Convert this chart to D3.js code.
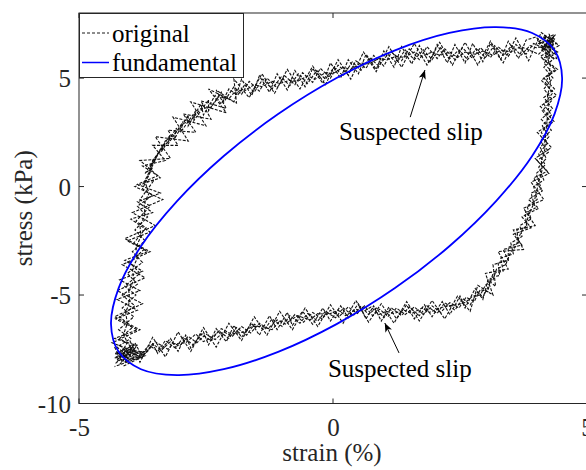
<!DOCTYPE html>
<html><head><meta charset="utf-8">
<script src="https://cdn.jsdelivr.net/npm/d3@7/dist/d3.min.js"></script>
<style>
html,body{margin:0;padding:0;background:#fff;}
svg{display:block;font-family:"Liberation Serif","Times New Roman",serif;}
</style></head>
<body>
<svg id="chart" width="586" height="470"></svg>
<script>
// ---------- data ----------
const xTicks = [-5, 0, 5];
const yTicks = [-10, -5, 0, 5];
const xDomain = [-5, 5];
const yDomain = [-10, 8];
const legendLabels = ["original", "fundamental"];
const xLabel = "strain (%)";
const yLabel = "stress (kPa)";

// fundamental (first harmonic) loop [strain, stress]
const fundamental = [
  [0.07, 5.00], [1.22, 6.28], [2.29, 7.08], [3.21, 7.35], [3.92, 7.08], [4.36, 6.28],
  [4.51, 5.00], [4.36, 3.34], [3.92, 1.41], [3.21, -0.67], [2.29, -2.75], [1.22, -4.68],
  [0.07, -6.34], [-1.08, -7.62], [-2.15, -8.42], [-3.07, -8.69], [-3.78, -8.42], [-4.22, -7.62],
  [-4.37, -6.34], [-4.22, -4.68], [-3.78, -2.75], [-3.07, -0.67], [-2.15, 1.41], [-1.08, 3.34]
];

const originalPass1 = [
  [-4.12,-7.9],[-3.95,-7.45],[-3.8,-7.8],[-3.62,-7.3],[-3.45,-7.6],[-3.3,-7.1],[-3.1,-7.45],[-2.95,-6.95],
  [-2.75,-7.3],[-2.6,-6.8],[-2.4,-7.1],[-2.25,-6.65],[-2.05,-7.0],[-1.9,-6.5],[-1.7,-6.85],[-1.55,-6.35],
  [-1.35,-6.6],[-1.2,-6.1],[-1.0,-6.45],[-0.85,-5.95],[-0.65,-6.3],[-0.5,-5.85],[-0.3,-6.2],[-0.15,-5.75],
  [0.05,-6.05],[0.2,-5.6],[0.4,-5.95],[0.55,-5.5],[0.7,-5.9],[0.85,-5.6],[1.0,-6.05],[1.15,-5.6],
  [1.35,-5.95],[1.5,-5.55],[1.7,-5.95],[1.85,-5.5],[2.05,-5.85],[2.2,-5.35],[2.4,-5.7],[2.55,-5.15],
  [2.7,-5.45],[2.85,-4.85],[2.95,-5.1],[3.1,-4.4],[3.15,-4.0],[3.35,-3.9],[3.3,-3.3],[3.55,-3.1],
  [3.5,-2.6],[3.72,-2.3],[3.68,-1.8],[3.9,-1.5],[3.82,-0.9],[4.02,-0.6],[3.95,0.0],[4.15,0.3],
  [4.05,0.9],[4.2,1.3],[4.08,1.8],[4.25,2.3],[4.12,2.8],[4.3,3.3],[4.15,3.8],[4.32,4.3],
  [4.18,4.8],[4.3,5.3],[4.15,5.7],[4.35,6.1],[4.2,6.5],[4.38,6.8],[4.1,6.9],[4.2,6.3],
  [3.95,6.6],[3.8,6.1],[3.6,6.55],[3.45,6.0],[3.25,6.45],[3.1,5.95],[2.9,6.4],[2.75,5.9],
  [2.55,6.4],[2.4,5.85],[2.2,6.35],[2.05,5.9],[1.85,6.45],[1.7,5.85],[1.5,6.35],[1.35,5.8],
  [1.15,6.2],[1.0,5.55],[0.8,6.05],[0.65,5.45],[0.45,5.8],[0.3,5.15],[0.1,5.6],[-0.05,5.0],
  [-0.25,5.45],[-0.4,4.8],[-0.6,5.25],[-0.75,4.7],[-0.95,5.1],[-1.1,4.55],[-1.3,5.0],[-1.45,4.4],
  [-1.65,4.85],[-1.8,4.25],[-1.95,4.6],[-2.15,3.9],[-2.2,4.35],[-2.45,3.5],[-2.45,4.0],[-2.75,3.0],
  [-2.7,3.5],[-3.0,2.5],[-2.95,3.0],[-3.25,1.95],[-3.2,2.4],[-3.5,1.3],[-3.4,1.7],[-3.7,0.6],
  [-3.55,0.9],[-3.75,-0.1],[-3.55,-0.4],[-3.85,-0.9],[-3.65,-1.4],[-3.9,-2.0],[-3.7,-2.5],[-3.95,-3.0],
  [-3.75,-3.5],[-4.05,-4.0],[-3.85,-4.5],[-4.15,-5.0],[-3.9,-5.5],[-4.2,-6.0],[-3.95,-6.5],[-4.2,-7.0],
  [-3.95,-7.4],[-4.25,-7.9],[-4.0,-8.1]
];
const originalPass2 = [
  [-4.2,-7.6],[-4.0,-8.0],[-3.88,-7.55],[-3.7,-7.7],[-3.55,-7.25],[-3.38,-7.55],[-3.2,-7.15],[-3.02,-7.35],
  [-2.85,-6.9],[-2.68,-7.2],[-2.5,-6.8],[-2.32,-7.05],[-2.15,-6.7],[-1.98,-6.9],[-1.8,-6.45],[-1.62,-6.75],
  [-1.45,-6.3],[-1.28,-6.55],[-1.1,-6.15],[-0.92,-6.35],[-0.75,-5.9],[-0.58,-6.25],[-0.4,-5.8],[-0.22,-6.1],
  [-0.05,-5.7],[0.12,-6.0],[0.3,-5.55],[0.48,-5.85],[0.62,-5.5],[0.78,-5.95],[0.92,-5.65],[1.08,-6.0],
  [1.25,-5.6],[1.42,-5.9],[1.6,-5.55],[1.78,-5.9],[1.95,-5.5],[2.12,-5.8],[2.3,-5.35],[2.48,-5.6],
  [2.62,-5.1],[2.78,-5.3],[2.9,-4.75],[3.05,-4.85],[3.1,-4.2],[3.28,-4.1],[3.25,-3.5],[3.45,-3.4],
  [3.45,-2.8],[3.65,-2.6],[3.62,-2.0],[3.82,-1.9],[3.78,-1.2],[3.98,-1.0],[3.9,-0.3],[4.1,-0.1],
  [4.0,0.6],[4.18,1.0],[4.05,1.5],[4.22,2.0],[4.1,2.5],[4.28,3.0],[4.12,3.5],[4.32,4.0],
  [4.15,4.5],[4.33,5.0],[4.15,5.5],[4.35,5.9],[4.1,6.3],[4.4,6.6],[4.15,7.0],[4.3,6.5],[4.0,6.4],
  [3.88,6.5],[3.7,6.05],[3.52,6.5],[3.35,6.05],[3.18,6.5],[3.0,5.95],[2.82,6.35],[2.65,5.85],
  [2.48,6.3],[2.3,5.9],[2.12,6.4],[1.95,5.85],[1.78,6.3],[1.6,5.85],[1.42,6.3],[1.25,5.7],
  [1.08,6.1],[0.9,5.55],[0.72,5.95],[0.55,5.35],[0.38,5.75],[0.2,5.1],[0.02,5.5],[-0.15,4.95],
  [-0.32,5.35],[-0.5,4.75],[-0.68,5.2],[-0.85,4.65],[-1.02,5.05],[-1.2,4.5],[-1.38,4.95],[-1.55,4.35],
  [-1.72,4.75],[-1.88,4.2],[-2.05,4.5],[-2.2,3.8],[-2.32,4.2],[-2.55,3.3],[-2.6,3.8],[-2.85,2.8],
  [-2.85,3.3],[-3.12,2.2],[-3.08,2.7],[-3.38,1.6],[-3.3,2.0],[-3.6,0.9],[-3.48,1.3],[-3.72,0.2],
  [-3.52,0.3],[-3.8,-0.6],[-3.6,-0.9],[-3.88,-1.6],[-3.68,-1.9],[-3.92,-2.6],[-3.72,-2.9],[-4.0,-3.5],
  [-3.8,-4.0],[-4.1,-4.6],[-3.88,-5.0],[-4.15,-5.6],[-3.92,-6.0],[-4.22,-6.6],[-3.98,-7.0],[-4.25,-7.4],
  [-4.05,-7.8],[-4.2,-8.2]
];
const originalPass3 = [
  [-4.3,-7.4],[-4.15,-8.1],[-3.9,-7.2],[-3.75,-7.85],[-3.55,-7.25],[-3.45,-7.7],[-3.2,-7.0],[-3.05,-7.6],
  [-2.9,-6.85],[-2.8,-7.45],[-2.55,-6.7],[-2.45,-7.3],[-2.3,-6.55],[-2.1,-7.15],[-1.95,-6.4],[-1.8,-6.95],
  [-1.6,-6.3],[-1.45,-6.85],[-1.25,-5.95],[-1.1,-6.6],[-0.9,-5.8],[-0.8,-6.4],[-0.6,-5.75],[-0.4,-6.35],
  [-0.2,-5.6],[-0.05,-6.2],[0.15,-5.5],[0.3,-6.05],[0.5,-5.4],[0.65,-6.1],[0.8,-5.5],[0.95,-6.2],
  [1.1,-5.55],[1.25,-6.1],[1.45,-5.45],[1.6,-6.1],[1.8,-5.45],[1.95,-6.0],[2.15,-5.3],[2.3,-5.9],
  [2.5,-5.05],[2.6,-5.6],[2.8,-4.7],[2.95,-5.2],[3.05,-4.3],[3.2,-4.6],[3.15,-3.6],[3.45,-3.4],
  [3.35,-2.9],[3.72,-2.7],[3.55,-2.2],[3.9,-1.9],[3.72,-1.4],[4.05,-1.0],[3.85,-0.6],[4.12,-0.2],
  [3.95,0.4],[4.22,0.7],[4.02,1.2],[4.25,1.6],[4.08,2.1],[4.3,2.6],[4.1,3.1],[4.32,3.6],
  [4.15,4.1],[4.36,4.5],[4.15,5.0],[4.38,5.4],[4.12,5.9],[4.42,6.2],[4.05,6.7],[4.35,7.0],
  [4.25,6.0],[4.0,6.9],
  [3.8,6.75],[3.65,5.9],[3.45,6.7],[3.3,5.85],[3.1,6.6],[2.95,5.75],[2.75,6.6],[2.6,5.7],
  [2.4,6.55],[2.25,5.7],[2.05,6.55],[1.9,5.7],[1.7,6.5],[1.55,5.65],[1.35,6.45],[1.2,5.5],
  [1.0,6.25],[0.85,5.4],[0.65,6.1],[0.5,5.2],[0.3,5.85],[0.15,5.0],[-0.05,5.7],[-0.2,4.75],
  [-0.4,5.45],[-0.55,4.6],[-0.75,5.35],[-0.9,4.45],[-1.1,5.2],[-1.25,4.35],[-1.45,5.1],[-1.6,4.2],
  [-1.8,4.95],[-1.95,3.9],[-2.3,4.45],[-2.1,3.6],[-2.6,3.95],[-2.4,3.1],[-2.95,3.35],[-2.7,2.5],
  [-3.25,2.6],[-3.05,1.9],[-3.55,1.9],[-3.3,1.2],[-3.75,0.95],[-3.45,0.5],[-3.85,0.1],[-3.4,-0.3],
  [-3.85,-0.7],[-3.55,-1.2],[-3.98,-1.5],[-3.6,-2.1],[-4.05,-2.5],[-3.65,-3.0],[-4.1,-3.4],[-3.75,-3.9],
  [-4.2,-4.3],[-3.8,-4.8],[-4.25,-5.2],[-3.85,-5.7],[-4.28,-6.1],[-3.85,-6.6],[-4.3,-7.0],[-3.9,-7.3],
  [-4.3,-7.7],[-3.8,-7.9],[-4.15,-8.3]
];
const originalPass4 = [
  [-4.25,-8.0],[-4.0,-7.35],[-3.85,-7.95],[-3.65,-7.6],[-3.5,-7.15],[-3.25,-7.5],[-3.15,-7.25],[-2.9,-7.2],
  [-2.7,-6.8],[-2.55,-7.15],[-2.35,-6.9],[-2.2,-6.55],[-2.0,-6.8],[-1.75,-6.7],[-1.6,-6.45],[-1.4,-6.45],
  [-1.2,-6.6],[-1.05,-6.2],[-0.85,-6.2],[-0.7,-5.95],[-0.45,-6.15],[-0.3,-5.85],[-0.1,-5.9],[0.1,-5.7],
  [0.25,-5.95],[0.45,-5.65],[0.6,-5.75],[0.75,-5.55],[0.9,-5.9],[1.05,-5.75],[1.2,-5.85],[1.4,-5.7],
  [1.55,-5.85],[1.75,-5.6],[1.9,-5.8],[2.1,-5.6],[2.25,-5.5],[2.45,-5.45],[2.6,-5.35],[2.75,-5.05],
  [2.9,-5.0],[3.0,-4.55],[3.15,-4.3],[3.22,-3.8],[3.4,-3.6],[3.5,-3.0],[3.6,-2.75],[3.7,-2.1],
  [3.8,-1.8],[3.85,-1.3],[3.95,-0.8],[4.0,-0.3],[4.05,0.2],[4.12,0.8],[4.1,1.2],[4.17,1.7],
  [4.18,2.2],[4.2,2.7],[4.22,3.2],[4.25,3.7],[4.22,4.2],[4.28,4.7],[4.25,5.2],[4.28,5.6],
  [4.2,6.0],[4.3,6.4],[4.25,6.8],[4.15,6.5],[4.3,6.7],[4.05,6.1],
  [3.85,6.3],[3.7,6.45],[3.5,6.2],[3.3,6.3],[3.15,6.05],[2.95,6.25],[2.8,6.1],[2.6,6.2],
  [2.45,5.95],[2.3,6.2],[2.1,6.05],[1.95,6.2],[1.75,6.0],[1.6,6.2],[1.4,5.95],[1.25,6.0],
  [1.05,5.85],[0.9,5.9],[0.7,5.65],[0.55,5.7],[0.35,5.4],[0.2,5.5],[0.0,5.2],[-0.15,5.25],
  [-0.35,4.95],[-0.5,5.1],[-0.7,4.85],[-0.85,4.9],[-1.05,4.75],[-1.2,4.85],[-1.4,4.6],[-1.55,4.7],
  [-1.75,4.4],[-1.9,4.45],[-2.05,4.05],[-2.25,4.15],[-2.4,3.65],[-2.6,3.6],[-2.8,3.05],[-2.95,2.9],
  [-3.15,2.35],[-3.3,2.1],[-3.45,1.5],[-3.55,1.2],[-3.62,0.6],[-3.7,0.2],[-3.62,-0.3],[-3.72,-0.8],
  [-3.7,-1.3],[-3.8,-1.8],[-3.78,-2.3],[-3.88,-2.8],[-3.85,-3.3],[-3.95,-3.8],[-3.92,-4.3],[-4.02,-4.8],
  [-4.0,-5.3],[-4.08,-5.8],[-4.05,-6.3],[-4.12,-6.8],[-4.05,-7.2],[-4.15,-7.6],[-4.1,-7.9]
];
const originalPass5 = [
  [-4.0,-7.1],[-3.8,-8.1],[-3.55,-6.95],[-3.3,-7.85],[-3.05,-6.7],[-2.8,-7.6],[-2.55,-6.5],[-2.3,-7.4],
  [-2.05,-6.3],[-1.8,-7.1],[-1.55,-6.0],[-1.3,-6.85],[-1.05,-5.75],[-0.8,-6.6],[-0.55,-5.6],[-0.3,-6.45],
  [-0.05,-5.45],[0.2,-6.3],[0.45,-5.25],[0.7,-6.25],[0.95,-5.4],[1.2,-6.3],[1.45,-5.3],[1.7,-6.2],
  [1.95,-5.25],[2.2,-6.1],[2.45,-5.05],[2.7,-5.75],[2.85,-4.55],[3.15,-5.0],
  [3.0,-4.0],[3.45,-3.8],[3.25,-3.0],[3.75,-2.9],[3.55,-2.0],[3.98,-1.8],[3.75,-1.0],[4.15,-0.6],
  [3.9,0.2],[4.25,0.6],[3.98,1.3],[4.3,1.8],[4.02,2.5],[4.35,3.0],[4.08,3.7],[4.4,4.2],
  [4.1,4.9],[4.42,5.4],[4.08,6.0],[4.45,6.5],[4.1,7.1],
  [3.85,5.8],[3.6,6.85],[3.35,5.7],[3.1,6.7],[2.85,5.6],[2.6,6.65],[2.35,5.6],[2.1,6.65],
  [1.85,5.6],[1.6,6.6],[1.35,5.5],[1.1,6.45],[0.85,5.3],[0.6,6.2],[0.35,4.95],[0.1,5.85],
  [-0.15,4.7],[-0.4,5.55],[-0.65,4.5],[-0.9,5.4],[-1.15,4.3],[-1.4,5.2],[-1.65,4.1],[-1.95,4.95],
  [-1.9,3.85],[-2.45,4.5],[-2.1,3.4],[-2.8,3.9],[-2.5,2.8],[-3.15,3.2],[-2.85,2.1],[-3.5,2.3],
  [-3.2,1.3],[-3.8,1.2],[-3.4,0.4],
  [-3.9,0.0],[-3.35,-0.6],[-3.95,-1.2],[-3.5,-1.8],[-4.1,-2.4],[-3.6,-3.0],[-4.15,-3.6],[-3.7,-4.2],
  [-4.25,-4.8],[-3.75,-5.4],[-4.3,-6.0],[-3.8,-6.6],[-4.35,-7.2],[-3.7,-7.8],[-4.3,-8.3]
];
// dense samples at the two reversal corners
const originalCornerLow = [
  [-4.2,-7.3],[-3.9,-8.0],[-4.25,-7.7],[-3.7,-7.6],[-4.1,-8.1],[-3.85,-7.3],[-4.3,-7.9],[-3.95,-7.7],
  [-4.15,-7.5],[-3.75,-7.9],[-4.05,-7.55],[-4.28,-8.15],[-3.9,-7.45]
];
const originalCornerHigh = [
  [4.15,6.9],[4.4,6.2],[4.2,6.6],[4.38,7.0],[4.1,6.3],[4.35,6.5],[4.25,7.05],[4.4,5.9],
  [4.18,6.0],[4.32,6.8],[4.05,6.6],[4.3,6.1]
];
const originalPasses = [originalPass1, originalPass2, originalPass3, originalPass4, originalPass5,
                        originalCornerLow, originalCornerHigh];

// annotations [text x, text baseline y, arrow start x, y, arrow tip x, y] in data units
const annotationText = ["Suspected slip", "Suspected slip"];
const annotationPos = [
  [0.12, 2.14, 1.52, 3.2, 1.81, 5.37],
  [-0.10, -8.8, 1.30, -7.67, 1.02, -6.29]
];

// ---------- layout ----------
const svg = d3.select("#chart");
const M = {left: 79, top: 13, right: 587, bottom: 403.5};
const x = d3.scaleLinear().domain(xDomain).range([M.left, M.right]);
const y = d3.scaleLinear().domain(yDomain).range([M.bottom, M.top]);
const axisColor = "#262626";
const fontSize = 25;
const fmt = d => String(d);

const defs = svg.append("defs");
defs.append("clipPath").attr("id", "clip").append("rect")
  .attr("x", M.left).attr("y", M.top).attr("width", M.right - M.left).attr("height", M.bottom - M.top);
defs.append("marker").attr("id", "arrow").attr("viewBox", "0 0 10 10")
  .attr("refX", 10).attr("refY", 5).attr("markerWidth", 9).attr("markerHeight", 9)
  .attr("markerUnits", "userSpaceOnUse").attr("orient", "auto")
  .append("path").attr("d", "M0,1 L10,5 L0,9 L2.5,5 Z").attr("fill", "#000");

const plot = svg.append("g").attr("clip-path", "url(#clip)");
const line = d3.line().x(d => x(d[0])).y(d => y(d[1]));

originalPasses.forEach(p => {
  plot.append("path").datum(p).attr("d", line)
    .attr("fill", "none").attr("stroke", "#111").attr("stroke-width", 1.1)
    .attr("stroke-dasharray", "3,1.5");
});

plot.append("path").datum(fundamental)
  .attr("d", d3.line().x(d => x(d[0])).y(d => y(d[1])).curve(d3.curveCatmullRomClosed.alpha(0.5)))
  .attr("fill", "none").attr("stroke", "#0000ff").attr("stroke-width", 1.8);

// ---------- axes ----------
const tickLen = 5;
const axB = d3.axisBottom(x).tickValues(xTicks).tickSize(0).tickPadding(0).tickFormat(fmt);
const gx = svg.append("g").attr("transform", `translate(0,${M.bottom})`).call(axB);
gx.select(".domain").remove();
gx.selectAll("text").attr("font-size", fontSize).attr("fill", axisColor)
  .attr("font-family", "Liberation Serif, serif").attr("dy", null).attr("y", 32);

const axL = d3.axisLeft(y).tickValues(yTicks).tickSize(0).tickPadding(0).tickFormat(fmt);
const gy = svg.append("g").attr("transform", `translate(${M.left},0)`).call(axL);
gy.select(".domain").remove();
gy.selectAll("text").attr("font-size", fontSize).attr("fill", axisColor)
  .attr("font-family", "Liberation Serif, serif").attr("x", -8).attr("dy", "0.34em");

// inward ticks on all four sides
const tk = svg.append("g").attr("stroke", axisColor).attr("stroke-width", 1);
xTicks.forEach(v => {
  tk.append("line").attr("x1", x(v)).attr("x2", x(v)).attr("y1", M.bottom).attr("y2", M.bottom - tickLen);
  tk.append("line").attr("x1", x(v)).attr("x2", x(v)).attr("y1", M.top).attr("y2", M.top + tickLen);
});
yTicks.forEach(v => {
  tk.append("line").attr("x1", M.left).attr("x2", M.left + tickLen).attr("y1", y(v)).attr("y2", y(v));
  tk.append("line").attr("x1", M.right).attr("x2", M.right - tickLen).attr("y1", y(v)).attr("y2", y(v));
});
svg.append("rect").attr("x", M.left).attr("y", M.top)
  .attr("width", M.right - M.left).attr("height", M.bottom - M.top)
  .attr("fill", "none").attr("stroke", axisColor).attr("stroke-width", 1);

// axis labels
svg.append("text").attr("x", (M.left + M.right) / 2 - 1).attr("y", 461)
  .attr("text-anchor", "middle").attr("font-size", fontSize).attr("fill", axisColor).text(xLabel);
svg.append("text").attr("transform", `translate(32,${(M.top + M.bottom) / 2}) rotate(-90)`)
  .attr("text-anchor", "middle").attr("font-size", fontSize).attr("fill", axisColor).text(yLabel);

// ---------- annotations ----------
annotationPos.forEach((a, i) => {
  svg.append("line").attr("x1", x(a[2])).attr("y1", y(a[3])).attr("x2", x(a[4])).attr("y2", y(a[5]))
    .attr("stroke", "#000").attr("stroke-width", 1).attr("marker-end", "url(#arrow)");
  svg.append("text").attr("x", x(a[0])).attr("y", y(a[1])).attr("font-size", fontSize)
    .attr("fill", "#000").text(annotationText[i]);
});

// ---------- legend ----------
const lg = svg.append("g");
lg.append("rect").attr("x", M.left + 0.5).attr("y", M.top + 0.5).attr("width", 164).attr("height", 64)
  .attr("fill", "#fff").attr("stroke", axisColor).attr("stroke-width", 1);
const legendStyles = [
  {stroke: "#1a1a1a", dash: "3,2", w: 1},
  {stroke: "#0000ff", dash: null, w: 1.5}
];
legendLabels.forEach((lab, i) => {
  const cy = M.top + 20 + i * 29.5;
  lg.append("line").attr("x1", M.left + 3).attr("x2", M.left + 30).attr("y1", cy).attr("y2", cy)
    .attr("stroke", legendStyles[i].stroke).attr("stroke-width", legendStyles[i].w)
    .attr("stroke-dasharray", legendStyles[i].dash);
  lg.append("text").attr("x", M.left + 33).attr("y", cy + 8.5).attr("font-size", fontSize)
    .attr("fill", "#000").text(lab);
});
</script>
</body></html>
